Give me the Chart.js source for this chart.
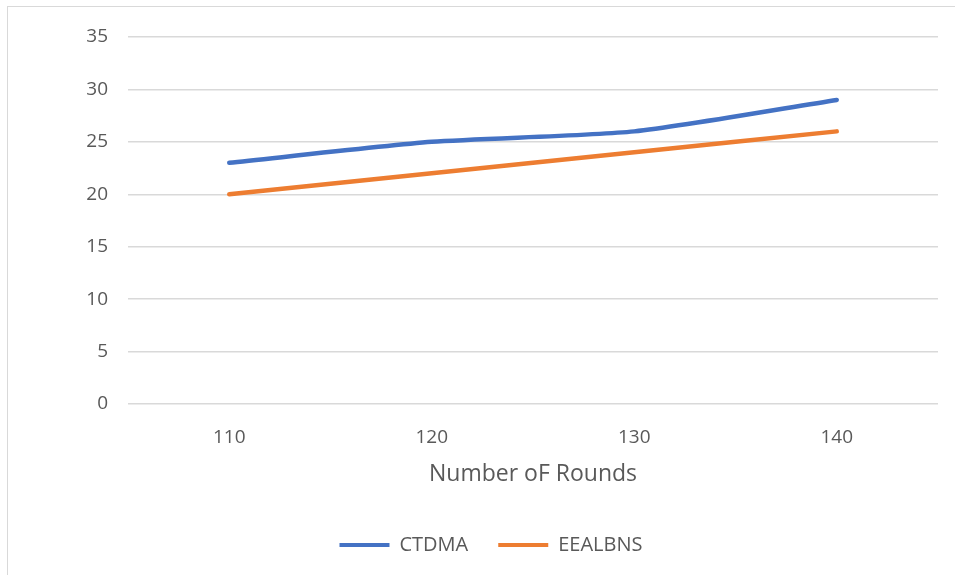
<!DOCTYPE html>
<html>
<head>
<meta charset="utf-8">
<script src="https://cdn.jsdelivr.net/npm/chart.js@4"></script>
<style>
  html, body { margin: 0; padding: 0; background: #ffffff; }
  #frame {
    position: absolute; left: 7px; top: 6px; width: 960px; height: 580px;
    border: 1.5px solid #d9d9d9; box-sizing: border-box;
  }
  #wrap { position: absolute; left: 0; top: 0; width: 955px; height: 575px; }
</style>
</head>
<body>
<div id="frame"></div>
<div id="wrap"><canvas id="chart" width="955" height="575"></canvas></div>
<script>
// Rounds on the x axis and the two protocols being compared
const rounds = ['110', '120', '130', '140'];
const ctdma = [23, 25, 26, 29];
const eealbns = [20, 22, 24, 26];
const yTicks = [0, 5, 10, 15, 20, 25, 30, 35];

const tickColor = '#595959';
const gridColor = '#d9d9d9';
const fontFamily = '"Open Sans", "Liberation Sans", sans-serif';

new Chart(document.getElementById('chart'), {
  type: 'line',
  data: {
    labels: rounds,
    datasets: [
      {
        label: 'CTDMA', data: ctdma,
        borderColor: '#4472C4', backgroundColor: '#4472C4',
        borderWidth: 4.5, pointRadius: 0, tension: 0.22, borderCapStyle: 'round'
      },
      {
        label: 'EEALBNS', data: eealbns,
        borderColor: '#ED7D31', backgroundColor: '#ED7D31',
        borderWidth: 4.5, pointRadius: 0, tension: 0.22, borderCapStyle: 'round'
      }
    ]
  },
  options: {
    responsive: false,
    animation: false,
    devicePixelRatio: 1,
    layout: { padding: { left: 44, right: 17, top: 37, bottom: 10 } },
    scales: {
      x: {
        offset: true,
        afterFit: (scale) => { scale.height = 101; },
        grid: { display: false, drawTicks: false },
        border: { display: false },
        ticks: { color: tickColor, font: { family: fontFamily, size: 19 }, padding: 22 },
        title: {
          display: true, text: 'Number oF Rounds', color: tickColor,
          font: { family: fontFamily, size: 23 }, padding: { top: 10, bottom: 17 }
        }
      },
      y: {
        min: 0, max: 35,
        afterFit: (scale) => { scale.width = 84; },
        afterBuildTicks: (scale) => { scale.ticks = yTicks.map(v => ({ value: v })); },
        grid: { color: gridColor, lineWidth: 1.5, drawTicks: false },
        border: { display: false },
        ticks: { color: tickColor, font: { family: fontFamily, size: 19 }, padding: 20 }
      }
    },
    plugins: {
      legend: {
        position: 'bottom',
        labels: {
          color: tickColor, boxWidth: 50, boxHeight: 4, padding: 30,
          font: { family: fontFamily, size: 20 },
          generateLabels: (chart) => chart.data.datasets.map((ds, i) => ({
            text: ds.label, fillStyle: ds.borderColor, strokeStyle: ds.borderColor,
            lineWidth: 0, hidden: false, datasetIndex: i, fontColor: tickColor
          }))
        }
      },
      tooltip: { enabled: false }
    }
  }
});
</script>
</body>
</html>
